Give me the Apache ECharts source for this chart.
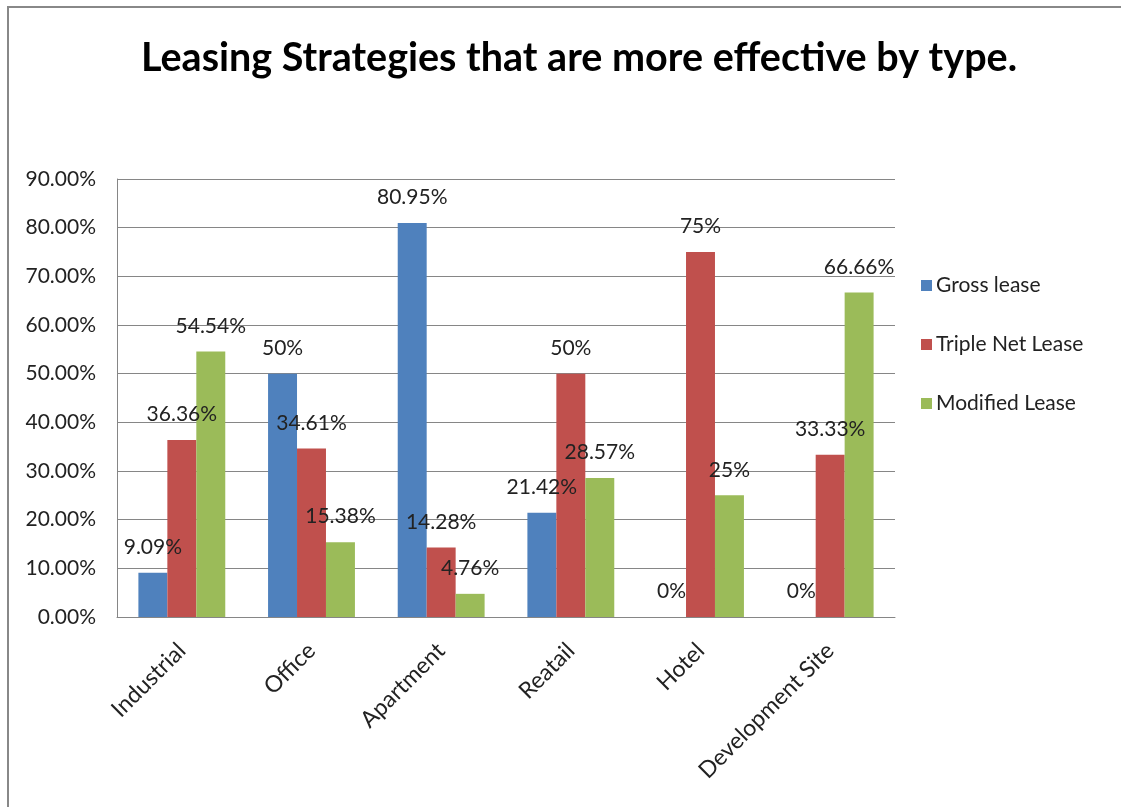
<!DOCTYPE html>
<html><head><meta charset="utf-8">
<script src="https://cdn.jsdelivr.net/npm/echarts@6/dist/echarts.min.js"></script>
<style>html,body{margin:0;padding:0;background:#fff;overflow:hidden}#c{width:1121px;height:807px}</style>
</head><body><div id="c"></div>
<script>
const categories = ["Industrial", "Office", "Apartment", "Reatail", "Hotel", "Development Site"];
const seriesNames = ["Gross lease", "Triple Net Lease", "Modified Lease"];
const grossLease = [9.09, 50, 80.95, 21.42, 0, 0];
const tripleNetLease = [36.36, 34.61, 14.28, 50, 75, 33.33];
const modifiedLease = [54.54, 15.38, 4.76, 28.57, 25, 66.66];
const colors = ["#4F81BD", "#C0504D", "#9BBB59"];
const titleText = "Leasing Strategies that are more effective by type.";
const FONT = "Lato";

const chart = echarts.init(document.getElementById('c'), null, {renderer: 'canvas'});
const mk = (name, data, color) => ({
  name, type: 'bar', data, barGap: '0%', barCategoryGap: '33%',
  itemStyle: {color},
  label: {show: true, position: 'top', distance: 15, color: '#222', fontFamily: FONT, fontSize: 21,
    formatter: p => p.value + '%'}
});
chart.setOption({
  animation: false,
  backgroundColor: '#fff',
  title: {text: titleText, left: 136, top: 33,
    textStyle: {fontFamily: FONT, fontWeight: 'bold', fontSize: 39.5, color: '#000'}},
  graphic: [
    {type: 'line', shape: {x1: 8, y1: 7, x2: 1160, y2: 7},
      style: {stroke: '#888', lineWidth: 2}, silent: true},
    {type: 'line', shape: {x1: 8, y1: 6, x2: 8, y2: 850},
      style: {stroke: '#888', lineWidth: 2}, silent: true}
  ],
  legend: {orient: 'vertical', left: 916, top: 270, itemWidth: 11, itemHeight: 11, itemGap: 38,
    icon: 'rect', data: seriesNames,
    textStyle: {fontFamily: FONT, fontSize: 21, color: '#222', padding: [0,0,0,-1]}},
  grid: {left: 117, right: 226, top: 179, bottom: 190, containLabel: false},
  xAxis: {type: 'category', data: categories,
    axisLine: {lineStyle: {color: '#868686', width: 1}},
    axisTick: {show: false},
    axisLabel: {rotate: 45, margin: 30, interval: 0, fontFamily: FONT, fontSize: 23, color: '#222'}},
  yAxis: {type: 'value', min: 0, max: 90, interval: 10,
    axisLine: {show: true, lineStyle: {color: '#868686', width: 1}},
    axisTick: {show: false},
    splitLine: {lineStyle: {color: '#868686', width: 1}},
    axisLabel: {margin: 21, fontFamily: FONT, fontSize: 21, color: '#222', formatter: v => v.toFixed(2) + '%'}},
  series: [mk(seriesNames[0], grossLease, colors[0]), mk(seriesNames[1], tripleNetLease, colors[1]), mk(seriesNames[2], modifiedLease, colors[2])]
});
</script></body></html>
